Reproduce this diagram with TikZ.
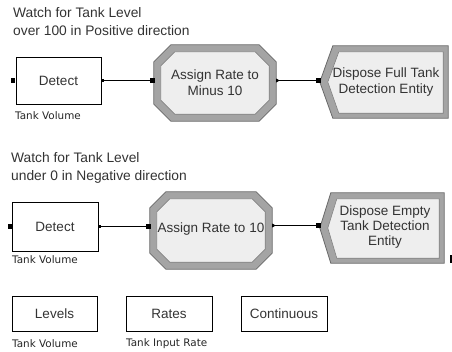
\documentclass[tikz,border=0pt]{standalone}
\usepackage{fontspec}
\setmainfont{Liberation Sans}
\newfontfamily\lblfont{DejaVu Sans}
\usetikzlibrary{calc,backgrounds}
\definecolor{textgray}{HTML}{333333}
\definecolor{bevout}{HTML}{A4A4A4}
\definecolor{bevline}{HTML}{6A6A6A}
\definecolor{bevin}{HTML}{EEEEEE}
\definecolor{bevinline}{HTML}{808080}
\newcommand\octshape[4]{% node, chamfer, inset, inner chamfer
  \filldraw[fill=bevout,draw=bevline,line width=0.8pt]
    ($(#1.north west)+(#2pt,0pt)$) -- ($(#1.north east)+(-#2pt,0pt)$) --
    ($(#1.north east)+(0pt,-#2pt)$) -- ($(#1.south east)+(0pt,#2pt)$) --
    ($(#1.south east)+(-#2pt,0pt)$) -- ($(#1.south west)+(#2pt,0pt)$) --
    ($(#1.south west)+(0pt,#2pt)$) -- ($(#1.north west)+(0pt,-#2pt)$) -- cycle;
  \filldraw[fill=bevin,draw=bevinline,line width=0.6pt]
    ($(#1.north west)+({#3pt+#4pt},-#3pt)$) -- ($(#1.north east)+({-#3pt-#4pt},-#3pt)$) --
    ($(#1.north east)+(-#3pt,{-#3pt-#4pt})$) -- ($(#1.south east)+(-#3pt,{#3pt+#4pt})$) --
    ($(#1.south east)+({-#3pt-#4pt},#3pt)$) -- ($(#1.south west)+({#3pt+#4pt},#3pt)$) --
    ($(#1.south west)+(#3pt,{#3pt+#4pt})$) -- ($(#1.north west)+(#3pt,{-#3pt-#4pt})$) -- cycle;
}
\newcommand\dispshape[2]{% node, slant
  \filldraw[fill=bevout,draw=bevline,line width=0.8pt]
    (#1.west) -- ($(#1.north west)+(#2pt,0pt)$) -- (#1.north east) --
    (#1.south east) -- ($(#1.south west)+(#2pt,0pt)$) -- cycle;
  \filldraw[fill=bevin,draw=bevinline,line width=0.6pt]
    ($(#1.west)+(8pt,0pt)$) -- ($(#1.north west)+({#2pt+6pt},-6pt)$) -- ($(#1.north east)+(-5pt,-6pt)$) --
    ($(#1.south east)+(-5pt,5pt)$) -- ($(#1.south west)+({#2pt+6pt},5pt)$) -- cycle;
}
\begin{document}
\begin{tikzpicture}[x=1pt,y=-1pt,
  txt/.style={font=\fontsize{13.5}{16}\selectfont, text=textgray, align=center, inner sep=0pt},
  modbox/.style={draw=black, line width=0.8pt, txt},
  shp/.style={txt},
  lbl/.style={font=\lblfont\fontsize{10.4}{12}\selectfont, anchor=west, inner sep=0pt, text=black!85},
  ttl/.style={font=\fontsize{13.8}{18}\selectfont, align=left, anchor=west, inner sep=0pt, text=textgray},
  conn/.style={draw=black, line width=0.8pt},
  port/.style={fill=black}]
\useasboundingbox (0,0) rectangle (452,351);

% ---------- row 1 ----------
\node[ttl] (t1) at (13,22) {Watch for Tank Level\\over 100 in Positive direction};
\node[modbox, minimum width=85pt, minimum height=47pt] (d1) at (58.5,80.5) {Detect};
\node[lbl] (l1) at (15,116) {Tank Volume};
\node[shp, minimum width=122pt, minimum height=76pt] (a1) at (215,83) {Assign Rate to\\Minus 10};
\node[shp, minimum width=128pt, minimum height=72pt] (x1) at (384,82) {};
\node[txt] (x1t) at (386,82.5) {Dispose Full Tank\\Detection Entity};

% ---------- row 2 ----------
\node[ttl] (t2) at (11,168) {Watch for Tank Level\\under 0 in Negative direction};
\node[modbox, minimum width=86pt, minimum height=49pt] (d2) at (55,226.5) {Detect};
\node[lbl] (l2) at (12,260) {Tank Volume};
\node[shp, minimum width=122pt, minimum height=77pt] (a2) at (211,230.5) {};
\node[txt] (a2t) at (211,229) {Assign Rate to 10};
\node[shp, minimum width=124pt, minimum height=70pt] (x2) at (382,228) {};
\node[txt, font=\fontsize{13.5}{15}\selectfont] (x2t) at (385,227.5) {Dispose Empty\\Tank Detection\\Entity};

% ---------- row 3 ----------
\node[modbox, minimum width=85pt, minimum height=35pt] (lv) at (54.5,313.5) {Levels};
\node[modbox, minimum width=86pt, minimum height=35pt] (rt) at (169,313.5) {Rates};
\node[modbox, minimum width=86pt, minimum height=35pt] (cn) at (284,313.5) {Continuous};
\node[lbl] (l3) at (12,344) {Tank Volume};
\node[lbl] (l4) at (126,344) {Tank Input Rate};

% ---------- shapes behind text ----------
\begin{scope}[on background layer]
  \octshape{a1}{17}{7}{14}
  \dispshape{x1}{13}
  \octshape{a2}{16}{7}{13}
  \dispshape{x2}{11}
\end{scope}

% ---------- connectors ----------
\coordinate (c1a) at (d1.east -| a1.west);
\coordinate (c1b) at (d1.east -| a1.east);
\coordinate (c1c) at (d1.east -| x1.west);
\draw[conn] (d1.east) -- (c1a);
\draw[conn] (c1b) -- (c1c);
\coordinate (c2a) at ($(d2.east -| a2.west)+(0pt,0.5pt)$);
\coordinate (c2b) at ($(d2.east -| a2.east)+(0pt,1pt)$);
\coordinate (c2c) at ($(d2.east -| x2.west)+(0pt,1pt)$);
\draw[conn] ($(d2.east)+(0pt,0.5pt)$) -- (c2a);
\draw[conn] (c2b) -- (c2c);

% ---------- ports ----------
\fill[port] ($(d1.west)+(-5pt,-2.5pt)$) rectangle +(4pt,5pt);
\fill[port] ($(d1.east)+(0pt,-1.5pt)$) rectangle +(2.5pt,3pt);
\fill[port] ($(c1a)+(-4pt,-2.5pt)$) rectangle +(5pt,5pt);
\fill[port] ($(c1b)+(0pt,2pt)$) -- ++(0pt,-4pt) -- ++(3.5pt,2pt) -- cycle;
\fill[port] ($(c1c)+(-4pt,-2.5pt)$) rectangle +(5pt,5pt);
\fill[port] ($(d2.west)+(-4pt,-2pt)$) rectangle +(4pt,5pt);
\fill[port] ($(d2.east)+(0pt,-1pt)$) rectangle +(2.5pt,3pt);
\fill[port] ($(c2a)+(-4pt,-2.5pt)$) rectangle +(5pt,5pt);
\fill[port] ($(c2b)+(0pt,2pt)$) -- ++(0pt,-4pt) -- ++(3.5pt,2pt) -- cycle;
\fill[port] ($(c2c)+(-4pt,-2.5pt)$) rectangle +(5pt,5pt);
\fill[port] (450,255) rectangle (452,263);
\end{tikzpicture}
\end{document}
